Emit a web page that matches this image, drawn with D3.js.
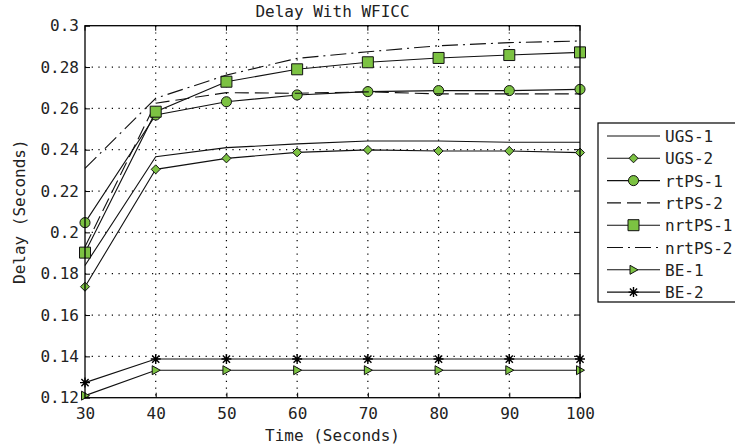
<!DOCTYPE html>
<html><head><meta charset="utf-8">
<script src="https://cdn.jsdelivr.net/npm/d3@7"></script>
<style>
body{margin:0;background:#fff;}
text{font-family:"DejaVu Sans Mono",monospace;fill:#222;}
</style></head>
<body>
<svg id="c" width="735" height="448"></svg>
<script>
const times = [30, 40, 50, 60, 70, 80, 90, 100];
const ugs1   = [0.184, 0.2366, 0.241, 0.2428, 0.2442, 0.2442, 0.2436, 0.2436];
const ugs2   = [0.1737, 0.2305, 0.2358, 0.2387, 0.2399, 0.2394, 0.2394, 0.2386];
const rtps1  = [0.2047, 0.2568, 0.2632, 0.2665, 0.2681, 0.2686, 0.2686, 0.2692];
const rtps2  = [0.193, 0.2625, 0.2676, 0.2673, 0.268, 0.267, 0.267, 0.267];
const nrtps1 = [0.1902, 0.2584, 0.2729, 0.2789, 0.2823, 0.2844, 0.2858, 0.2871];
const nrtps2 = [0.231, 0.2649, 0.2761, 0.2842, 0.2874, 0.2903, 0.2918, 0.2926];
const be1    = [0.121, 0.1333, 0.1333, 0.1333, 0.1333, 0.1333, 0.1333, 0.1333];
const be2    = [0.1273, 0.1387, 0.1387, 0.1387, 0.1387, 0.1387, 0.1387, 0.1387];
const xTicks = [30, 40, 50, 60, 70, 80, 90, 100];
const yTicks = [0.12, 0.14, 0.16, 0.18, 0.2, 0.22, 0.24, 0.26, 0.28, 0.3];
const seriesNames = ["UGS-1","UGS-2","rtPS-1","rtPS-2","nrtPS-1","nrtPS-2","BE-1","BE-2"];
const title = "Delay With WFICC";
const xLabel = "Time (Seconds)";
const yLabel = "Delay (Seconds)";

const GREEN = "#7cc242";
const FONT = "'DejaVu Sans Mono', monospace";
const styles = [
  {dash:null, marker:null},
  {dash:null, marker:"diamond"},
  {dash:null, marker:"circle"},
  {dash:"14,6", marker:null},
  {dash:null, marker:"square"},
  {dash:"16,5,2,5", marker:null},
  {dash:null, marker:"tri"},
  {dash:null, marker:"star"}
];
const seriesData = [ugs1, ugs2, rtps1, rtps2, nrtps1, nrtps2, be1, be2];

const svg = d3.select("#c");
const L = 85, R = 580, T = 25.7, B = 397.7;
const x = d3.scaleLinear().domain([30,100]).range([L,R]);
const y = d3.scaleLinear().domain([0.12,0.3]).range([B,T]);

// grid
const g = svg.append("g");
g.selectAll(".vg").data(xTicks.slice(1,-1)).enter().append("line")
  .attr("x1",d=>x(d)).attr("x2",d=>x(d)).attr("y1",T).attr("y2",B)
  .attr("stroke","#000").attr("stroke-width",1.2).attr("stroke-dasharray","1.2,5.5");
g.selectAll(".hg").data(yTicks.slice(1,-1)).enter().append("line")
  .attr("x1",L).attr("x2",R).attr("y1",d=>y(d)).attr("y2",d=>y(d))
  .attr("stroke","#000").attr("stroke-width",1.2).attr("stroke-dasharray","1.2,5.5");

// axes
const fmt = v => String(+v.toFixed(2));
const xa = svg.append("g").attr("transform",`translate(0,${B})`)
  .call(d3.axisBottom(x).tickValues(xTicks).tickFormat(d=>d).tickSizeInner(-5).tickSizeOuter(0).tickPadding(10));
const ya = svg.append("g").attr("transform",`translate(${L},0)`)
  .call(d3.axisLeft(y).tickValues(yTicks).tickFormat(fmt).tickSizeInner(-5).tickSizeOuter(0).tickPadding(6));
[xa,ya].forEach(a=>{
  a.attr("font-family",null).attr("font-size",null);
  a.select(".domain").remove();
  a.selectAll("line").attr("stroke","#000");
  a.selectAll("text").style("font-size","16px").style("font-family",FONT).attr("fill","#222");
});
// top/right ticks
svg.append("g").selectAll("line").data(xTicks).enter().append("line")
  .attr("x1",d=>x(d)).attr("x2",d=>x(d)).attr("y1",T).attr("y2",T+5).attr("stroke","#000");
svg.append("g").selectAll("line").data(yTicks).enter().append("line")
  .attr("x1",R).attr("x2",R-5).attr("y1",d=>y(d)).attr("y2",d=>y(d)).attr("stroke","#000");

// lines
const line = d3.line().x((d,i)=>x(times[i])).y(d=>y(d));
function markerPath(type){
  switch(type){
    case "diamond": return "M0,-4.5L4.5,0L0,4.5L-4.5,0Z";
    case "circle": return d3.symbol(d3.symbolCircle, 80)();
    case "square": return "M-5.5,-5.5H5.5V5.5H-5.5Z";
    case "tri": return "M-3.5,-4.5L4.5,0L-3.5,4.5Z";
    case "star": return "M-5,0H5M0,-5V5M-3.6,-3.6L3.6,3.6M-3.6,3.6L3.6,-3.6";
  }
  return null;
}
function drawMarker(sel, type){
  const p = markerPath(type);
  if(type==="star"){
    sel.attr("d",p).attr("fill","none").attr("stroke","#000").attr("stroke-width",1.4);
  } else {
    sel.attr("d",p).attr("fill",GREEN).attr("stroke","#111").attr("stroke-width",1);
  }
}
const plot = svg.append("g");
seriesData.forEach((vals,si)=>{
  const st = styles[si];
  plot.append("path").datum(vals).attr("d",line)
    .attr("fill","none").attr("stroke","#111").attr("stroke-width",1.1)
    .attr("stroke-dasharray",st.dash);
  if(st.marker){
    plot.selectAll(null).data(vals).enter().append("path")
      .attr("transform",(d,i)=>`translate(${x(times[i])},${y(d)})`)
      .call(drawMarker, st.marker);
  }
});

// box
svg.append("rect").attr("x",L).attr("y",T).attr("width",R-L).attr("height",B-T)
  .attr("fill","none").attr("stroke","#000").attr("stroke-width",1.3);

// title and labels
svg.append("text").attr("x",(L+R)/2).attr("y",17).attr("text-anchor","middle")
  .style("font-size","16px").text(title);
svg.append("text").attr("x",(L+R)/2).attr("y",441).attr("text-anchor","middle")
  .style("font-size","16px").text(xLabel);
svg.append("text").attr("transform",`translate(25,${(T+B)/2}) rotate(-90)`).attr("text-anchor","middle")
  .style("font-size","16px").text(yLabel);

// legend
const lg = svg.append("g");
lg.append("rect").attr("x",598).attr("y",123).attr("width",150).attr("height",179)
  .attr("fill","#fff").attr("stroke","#000").attr("stroke-width",1.2);
seriesNames.forEach((name,i)=>{
  const cy = 136 + i*22.3;
  const st = styles[i];
  lg.append("line").attr("x1",607).attr("x2",660).attr("y1",cy).attr("y2",cy)
    .attr("stroke","#111").attr("stroke-width",1.1).attr("stroke-dasharray",st.dash);
  if(st.marker){
    lg.append("path").attr("transform",`translate(633.5,${cy})`).call(drawMarker, st.marker);
  }
  lg.append("text").attr("x",665).attr("y",cy+6).style("font-size","16px").text(name);
});
</script>
</body></html>
